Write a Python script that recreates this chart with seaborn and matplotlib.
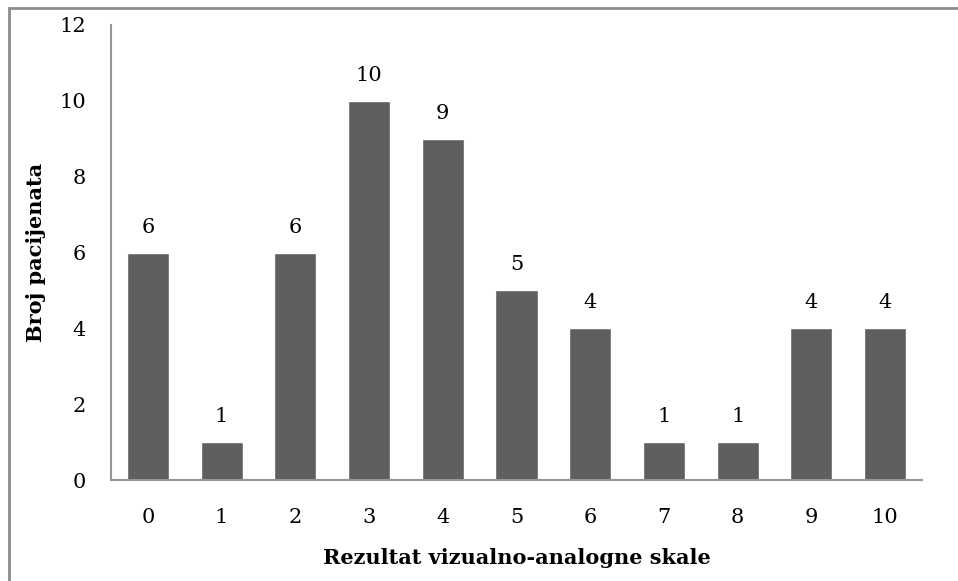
import matplotlib
matplotlib.use("Agg")
import matplotlib.pyplot as plt
import matplotlib.patches as patches
import seaborn as sn
import pandas as pd

# podaci
scores = ["0", "1", "2", "3", "4", "5", "6", "7", "8", "9", "10"]
patients = [6, 1, 6, 10, 9, 5, 4, 1, 1, 4, 4]

sn.set_style("white")
plt.rcParams['font.family'] = ['DejaVu Serif']
plt.rcParams['text.color'] = 'black'
plt.rcParams['axes.labelcolor'] = 'black'

df = pd.DataFrame({"score": scores, "count": patients})

fig = plt.figure(figsize=(9.58, 5.81), dpi=100)
ax = fig.add_axes([111 / 958, 1 - 480 / 581, (922 - 111) / 958, (480 - 25) / 581])

sn.barplot(data=df, x="score", y="count", order=scores, color="#5f5f5f",
           saturation=1, width=0.57, ax=ax)

for i, v in enumerate(patients):
    ax.text(i, v + 0.42, str(v), ha="center", va="bottom", fontsize=15, color="black")

ax.set_ylim(0, 12)
ax.set_xlim(-0.5, len(scores) - 0.5)
ax.set_yticks(range(0, 13, 2))
ax.tick_params(axis="both", length=0, labelsize=15, colors="black")
ax.tick_params(axis="x", pad=20)
ax.tick_params(axis="y", pad=18)

for side in ["top", "right"]:
    ax.spines[side].set_visible(False)
for side in ["left", "bottom"]:
    ax.spines[side].set_color("#959595")
    ax.spines[side].set_linewidth(1.5)

ax.set_xlabel("Rezultat vizualno-analogne skale", fontsize=15, fontweight="bold", color="black")
ax.set_ylabel("Broj pacijenata", fontsize=15, fontweight="bold", color="black")
ax.xaxis.set_label_coords(0.5, -(558 - 480) / 455, transform=ax.transAxes)
ax.xaxis.label.set_va("center")
ax.yaxis.set_label_coords(-(111 - 36) / 811, 0.5, transform=ax.transAxes)
ax.yaxis.label.set_va("center")

# okvir oko slike
fig.patches.append(patches.Rectangle((9 / 958, -0.1), 1.2, 1.1 - 8 / 581, transform=fig.transFigure,
                                     fill=False, edgecolor="#8c8c8c", linewidth=2))

plt.savefig("out.png", dpi=100)
